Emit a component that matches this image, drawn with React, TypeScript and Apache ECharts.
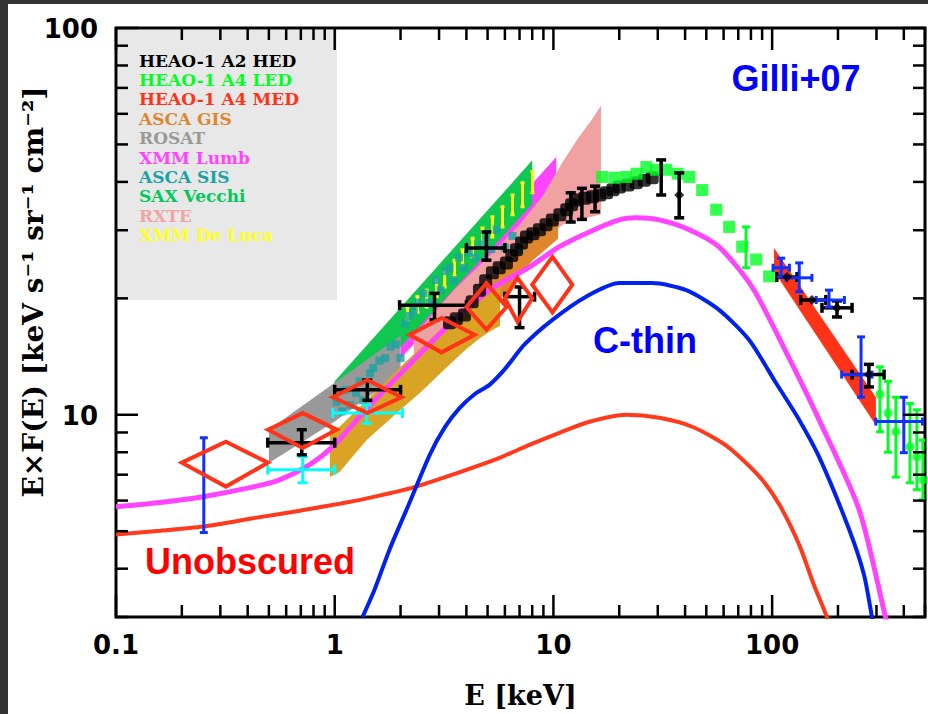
import React, { useEffect, useRef } from 'react';
import * as echarts from 'echarts';

// ---------- axes ----------
const X_MIN = 0.1;
const X_MAX = 500;
const Y_MIN = 3;
const Y_MAX = 100;
const xTickValues = [0.1, 1, 10, 100];
const xTickLabels = ['0.1', '1', '10', '100'];
const yTickValues = [10, 100];
const yTickLabels = ['10', '100'];

// ---------- model curves ----------
const unobsE = [0.1, 0.159, 0.25, 0.44, 0.692, 1.13, 1.6, 2.27, 3.35, 5.67, 7.77, 10.65, 14.6, 21.5, 30.5, 43.1, 61.7, 87.5, 108, 133, 155, 178, 192];
const unobsF = [4.9, 5.01, 5.14, 5.42, 5.65, 5.93, 6.18, 6.48, 6.96, 7.74, 8.36, 8.98, 9.59, 10.0, 9.82, 9.31, 8.32, 6.92, 5.85, 4.61, 3.64, 3.0, 2.63];

const cthinE = [1.34, 1.52, 1.78, 2.2, 2.72, 3.18, 3.72, 4.36, 5.1, 5.98, 7.38, 9.9, 14.1, 20.0, 28.3, 40.5, 57, 78.5, 104, 133, 164, 225, 263, 286, 298];
const cthinF = [3.0, 3.53, 4.48, 5.93, 7.88, 9.26, 10.4, 11.3, 11.95, 13.1, 15.2, 17.6, 20.2, 21.9, 21.9, 21.0, 18.7, 15.6, 12.1, 9.7, 7.78, 5.05, 3.86, 3.0, 2.63];

const totalE = [0.1, 0.159, 0.25, 0.409, 0.56, 0.769, 0.98, 1.3, 1.98, 3.35, 5.1, 7.77, 10.65, 14.6, 20.0, 23.9, 30.5, 41.8, 57, 81, 116, 164, 250, 330, 350];
const totalF = [5.78, 5.93, 6.14, 6.48, 6.79, 7.43, 8.27, 9.88, 12.7, 17.1, 21.0, 24.1, 27.2, 29.7, 31.9, 32.3, 31.9, 30.1, 27.2, 21.4, 14.5, 9.7, 5.68, 3.0, 2.63];

// ---------- bands (E, upper, lower) ----------
const saxE = [1.0, 8.0];
const saxTop = [12.2, 45.5];
const saxBot = [9.8, 35.0];

const rosatE = [0.5, 1.0, 2.0];
const rosatTop = [9.15, 12.1, 16.0];
const rosatBot = [7.5, 9.6, 12.8];

const lumbE = [2.0, 10.3];
const lumbTop = [16.5, 46.4];
const lumbBot = [14.0, 37.0];

const rxteE = [2.3, 3.5, 5, 7, 9, 11, 13, 15, 16.5];
const rxteTop = [16, 21, 25.5, 31, 37, 45, 52, 58, 63];
const rxteBot = [13.5, 17.5, 20.5, 24.5, 28, 31, 32, 32.5, 33];

const gisE = [4, 6, 8, 10.5];
const gisTop = [19, 24, 29, 33];
const gisBot = [16, 20.5, 25, 28.5];

const goldE = [0.95, 1.05, 1.4, 2.0, 2.5, 3, 3.5, 4, 4.5, 5, 5.7];
const goldTop = [9.2, 9.3, 10.9, 13.3, 15.0, 16.5, 17.8, 19.0, 20.0, 20.8, 21.5];
const goldBot = [6.9, 7.1, 8.6, 10.3, 11.5, 12.7, 13.8, 14.8, 15.6, 16.3, 17.0];

const medE = [102, 298];
const medTop = [27, 11.1];
const medBot = [23.5, 9.4];

// ---------- XMM De Luca bars ----------
const yelE = [2.15, 2.39, 2.63, 2.92, 3.18, 3.53, 3.84, 4.27, 4.74, 5.26, 5.85, 6.5, 7.22, 8.02];
const yelLo = [17.6, 18.4, 19.0, 20.2, 21.4, 22.8, 24.4, 25.6, 27.0, 28.8, 30.6, 32.9, 34.5, 37.5];
const yelHi = [19.0, 20.2, 21.0, 22.3, 23.4, 25.1, 26.7, 28.6, 30.4, 32.5, 34.5, 37.0, 39.8, 42.5];

// ---------- ASCA SIS points ----------
const sisE = [1.02, 1.08, 1.12, 1.18, 1.25, 1.3, 1.35, 1.45, 1.5, 1.6, 1.7, 1.8, 1.9, 2.0, 2.1, 2.2, 2.3, 2.4, 2.55, 2.7, 2.9, 3.05, 3.2, 3.35, 3.5, 3.7, 3.9, 4.1, 4.4, 4.7, 4.9, 5.2, 5.5, 6.0, 6.5, 7.0];
const sisF = [10.8, 10.2, 11.6, 10.6, 11.4, 12.2, 10.9, 12.8, 13.2, 13.8, 14.0, 15.0, 15.2, 14.0, 17.2, 18.0, 18.6, 19.5, 20.6, 19.5, 22.3, 21.0, 23.5, 24.0, 22.3, 25.5, 24.0, 26.2, 25.5, 27.5, 28.8, 26.8, 30.1, 27.0, 29.0, 26.7];

// ---------- HEAO-1 A2 HED ----------
const hedE = [3.35, 3.6, 3.92, 4.25, 4.59, 4.9, 5.26, 5.65, 6.1, 6.45, 6.78, 7.15, 7.53, 8.05, 8.63, 9.25, 9.89, 10.7, 11.5, 12.1, 12.7, 13.9, 15.1, 16.3, 17.5, 18.7, 20.0, 21.9, 23.9, 26.0, 28.3];
const hedF = [17.3, 17.7, 18.1, 19.6, 21.0, 22.2, 23.3, 24.0, 24.7, 25.8, 26.7, 27.8, 28.8, 29.4, 30.1, 31.0, 31.9, 32.9, 33.9, 34.9, 35.9, 36.3, 36.6, 37.0, 37.5, 38.2, 38.8, 39.3, 39.8, 40.4, 41.0];

// ---------- HEAO-1 A4 LED ----------
const ledE = [16.7, 19.0, 21.5, 24, 26.6, 29.5, 32.8, 37, 41.8, 47.9, 55.5, 63.6, 73, 84.5, 96.9];
const ledF = [41.2, 41.0, 41.2, 42, 43.7, 43, 43.0, 42, 41.2, 38.1, 33.9, 30.6, 27.2, 25.2, 22.8];

// error bars: [E, F, Elo, Ehi, Flo, Fhi]
const blackBars = [
  [0.707, 8.47, 0.494, 1.0, 7.88, 9.15],
  [1.41, 11.6, 1.0, 2.0, 10.9, 12.3],
  [2.86, 19.2, 1.98, 4.0, 17.6, 20.6],
  [4.94, 27.0, 4.0, 6.0, 25.1, 29.7],
  [7.0, 20.2, 6.0, 8.2, 16.8, 21.4],
  [12.0, 34.5, 12.0, 12.0, 31.5, 37.5],
  [13.5, 35.5, 13.5, 13.5, 32.0, 38.5],
  [15.5, 36.5, 15.5, 15.5, 33.5, 39.0],
  [31.1, 40.4, 31.1, 31.1, 37.0, 45.6],
  [37.6, 37.0, 37.6, 37.6, 32.3, 42.2],
  [117, 22.7, 105, 130, 22.7, 22.7],
  [152, 19.8, 135, 176, 19.8, 19.8],
  [198, 18.9, 169, 232, 17.9, 19.7],
  [277, 12.7, 232, 325, 11.8, 13.5],
];
const blackMarkers = [[117, 22.7], [152, 19.8], [198, 18.9], [277, 12.7], [37.6, 37.0]];

const blueBars = [
  [0.252, 6.6, 0.252, 0.252, 4.96, 8.72],
  [110, 24.0, 101, 120, 22.7, 25.4],
  [133, 22.6, 116, 152, 20.8, 24.7],
  [182, 19.8, 159, 214, 19.0, 21.0],
  [255, 12.7, 208, 286, 11.1, 15.9],
  [400, 9.6, 298, 487, 7.98, 11.1],
];

const cyanBars = [
  [0.714, 7.21, 0.494, 1.0, 6.67, 7.79],
  [1.4, 10.1, 0.98, 2.04, 9.5, 10.6],
];

const greenBars = [
  [76, 27.5, 76, 76, 24.0, 30.6],
  [311, 11.3, 311, 311, 9.04, 13.3],
  [339, 10.1, 339, 339, 8.0, 12.2],
  [368, 9.04, 368, 368, 6.9, 11.1],
  [427, 8.27, 427, 427, 6.67, 10.7],
  [459, 7.78, 459, 459, 6.4, 10.3],
  [489, 6.79, 489, 489, 6.03, 8.6],
];

// open diamonds: [E, F, Elo, Ehi, Flo, Fhi]
const diamonds = [
  [0.318, 7.52, 0.2, 0.495, 6.52, 8.52],
  [0.714, 9.15, 0.495, 1.02, 8.2, 10.1],
  [1.41, 11.1, 0.98, 2.02, 10.1, 12.3],
  [3.08, 16.1, 2.2, 4.36, 14.5, 17.8],
  [4.94, 19.0, 4.0, 6.1, 16.6, 21.9],
  [6.85, 20.0, 6.0, 8.0, 17.4, 22.6],
  [9.9, 21.7, 8.0, 12.2, 18.4, 25.6],
];

// ---------- legend ----------
const legendNames = ['HEAO-1 A2 HED', 'HEAO-1 A4 LED', 'HEAO-1 A4 MED', 'ASCA GIS', 'ROSAT', 'XMM Lumb', 'ASCA SIS', 'SAX Vecchi', 'RXTE', 'XMM De Luca'];
const legendColors = ['#000000', '#00ff22', '#ff3318', '#e0862e', '#999999', '#ff44ff', '#1aa3a3', '#00c95a', '#f2a3a3', '#ffff22'];

const C = {
  sax: '#10c850',
  rosat: '#999999',
  lumb: '#ff44ff',
  rxte: '#f0a2a2',
  gis: '#e0862e',
  gold: '#d9a323',
  med: '#ff3318',
  yellow: '#ffff22',
  sis: '#1aa3a3',
  red: '#ff3a1c',
  blue: '#0022ee',
  magenta: '#ff44ff',
  green: '#00ff22',
};

function band(name: string, E: number[], top: number[], bot: number[], color: string, z: number) {
  return {
    type: 'custom',
    name,
    z,
    clip: true,
    data: [[E[0], top[0]]],
    renderItem: (_p: any, api: any) => {
      const pts: number[][] = [];
      for (let i = 0; i < E.length; i++) pts.push(api.coord([E[i], top[i]]));
      for (let i = E.length - 1; i >= 0; i--) pts.push(api.coord([E[i], bot[i]]));
      return { type: 'polygon', shape: { points: pts }, style: { fill: color } };
    },
  };
}

function errBars(name: string, rows: number[][], color: string, lw: number, cap: number, z: number) {
  return {
    type: 'custom',
    name,
    z,
    clip: true,
    data: rows,
    renderItem: (_p: any, api: any) => {
      const E = api.value(0), F = api.value(1);
      const Elo = api.value(2), Ehi = api.value(3), Flo = api.value(4), Fhi = api.value(5);
      const st = { stroke: color, lineWidth: lw };
      const ch: any[] = [];
      if (Ehi > Elo) {
        const a = api.coord([Elo, F]), b = api.coord([Ehi, F]);
        ch.push({ type: 'line', shape: { x1: a[0], y1: a[1], x2: b[0], y2: b[1] }, style: st });
        ch.push({ type: 'line', shape: { x1: a[0], y1: a[1] - cap, x2: a[0], y2: a[1] + cap }, style: st });
        ch.push({ type: 'line', shape: { x1: b[0], y1: b[1] - cap, x2: b[0], y2: b[1] + cap }, style: st });
      }
      if (Fhi > Flo) {
        const a = api.coord([E, Flo]), b = api.coord([E, Fhi]);
        ch.push({ type: 'line', shape: { x1: a[0], y1: a[1], x2: b[0], y2: b[1] }, style: st });
        ch.push({ type: 'line', shape: { x1: a[0] - cap, y1: a[1], x2: a[0] + cap, y2: a[1] }, style: st });
        ch.push({ type: 'line', shape: { x1: b[0] - cap, y1: b[1], x2: b[0] + cap, y2: b[1] }, style: st });
      }
      return { type: 'group', children: ch };
    },
  };
}

function vBars(name: string, E: number[], lo: number[], hi: number[], color: string, z: number) {
  const rows = E.map((e, i) => [e, (lo[i] + hi[i]) / 2, e, e, lo[i], hi[i]]);
  return errBars(name, rows, color, 3, 2, z);
}

function line(name: string, E: number[], F: number[], color: string, width: number, z: number) {
  return {
    type: 'line',
    name,
    z,
    data: E.map((e, i) => [e, F[i]]),
    showSymbol: false,
    smooth: 0.25,
    clip: true,
    lineStyle: { color, width },
  };
}

function ticksSeries() {
  const xs: { v: number; major: boolean }[] = [];
  for (let d = -1; d <= 2; d++) {
    for (let m = 1; m <= 9; m++) {
      const v = m * Math.pow(10, d);
      if (v >= X_MIN - 1e-9 && v <= X_MAX + 1e-9) xs.push({ v, major: m === 1 });
    }
  }
  const ys: { v: number; major: boolean }[] = [];
  for (let d = 0; d <= 2; d++) {
    for (let m = 1; m <= 9; m++) {
      const v = m * Math.pow(10, d);
      if (v >= Y_MIN - 1e-9 && v <= Y_MAX + 1e-9) ys.push({ v, major: m === 1 });
    }
  }
  return {
    type: 'custom',
    name: 'ticks',
    z: 20,
    clip: false,
    silent: true,
    data: [[1, 10]],
    renderItem: (_p: any, api: any) => {
      const bl = api.coord([X_MIN, Y_MIN]);
      const tr = api.coord([X_MAX, Y_MAX]);
      const ch: any[] = [];
      const st = { stroke: '#000', lineWidth: 2.5 };
      xs.forEach((t) => {
        const x = api.coord([t.v, Y_MIN])[0];
        const L = t.major ? 22 : 12;
        ch.push({ type: 'line', shape: { x1: x, y1: bl[1], x2: x, y2: bl[1] - L }, style: st });
        ch.push({ type: 'line', shape: { x1: x, y1: tr[1], x2: x, y2: tr[1] + L }, style: st });
      });
      ys.forEach((t) => {
        const y = api.coord([X_MIN, t.v])[1];
        const L = t.major ? 22 : 12;
        ch.push({ type: 'line', shape: { x1: bl[0], y1: y, x2: bl[0] + L, y2: y }, style: st });
        ch.push({ type: 'line', shape: { x1: tr[0], y1: y, x2: tr[0] - L, y2: y }, style: st });
      });
      const font = 'bold 26px "DejaVu Sans", sans-serif';
      xTickValues.forEach((v, i) => {
        const x = api.coord([v, Y_MIN])[0];
        ch.push({ type: 'text', x, y: bl[1] + 28, style: { text: xTickLabels[i], font, fill: '#000', textAlign: 'center', textVerticalAlign: 'middle' } });
      });
      yTickValues.forEach((v, i) => {
        const y = api.coord([X_MIN, v])[1];
        ch.push({ type: 'text', x: bl[0] - 18, y: y + 1, style: { text: yTickLabels[i], font, fill: '#000', textAlign: 'right', textVerticalAlign: 'middle' } });
      });
      return { type: 'group', children: ch };
    },
  };
}

export default function App() {
  const ref = useRef<HTMLDivElement>(null);
  useEffect(() => {
    if (!ref.current) return;
    const chart = echarts.init(ref.current, null, { renderer: 'svg' });
    const legendGraphics = legendNames.map((n, i) => ({
      type: 'text',
      left: 139,
      top: 52 + i * 19.4,
      z: 5,
      style: { text: n, fill: legendColors[i], font: 'bold 17px "DejaVu Serif", serif' },
    }));
    const option: any = {
      animation: false,
      backgroundColor: '#ffffff',
      grid: { left: 116, top: 28, right: 3, bottom: 96, show: true, borderColor: '#000', borderWidth: 3, backgroundColor: 'transparent', z: 1 },
      xAxis: {
        type: 'log', logBase: 10, min: X_MIN, max: X_MAX,
        axisLine: { show: false }, axisTick: { show: false }, axisLabel: { show: false }, splitLine: { show: false },
        name: 'E [keV]', nameLocation: 'middle', nameGap: 65,
        nameTextStyle: { fontFamily: '"DejaVu Serif", serif', fontWeight: 'bold', fontSize: 27, color: '#000' },
      },
      yAxis: {
        type: 'log', logBase: 10, min: Y_MIN, max: Y_MAX,
        axisLine: { show: false }, axisTick: { show: false }, axisLabel: { show: false }, splitLine: { show: false },
      },
      graphic: [
        { type: 'rect', z: -10, shape: { x: 118, y: 30, width: 219, height: 270 }, style: { fill: '#e8e8e8' } },
        { type: 'rect', z: 100, shape: { x: 0, y: 0, width: 928, height: 4 }, style: { fill: '#333333' } },
        { type: 'rect', z: 100, shape: { x: 0, y: 0, width: 8, height: 714 }, style: { fill: '#333333' } },
        ...legendGraphics,
        {
          type: 'text', x: 33, y: 292, rotation: Math.PI / 2, z: 50,
          style: { text: 'E\u00d7F(E) [keV s\u207b\u00b9 sr\u207b\u00b9 cm\u207b\u00b2]', fill: '#000', font: 'bold 28px "DejaVu Serif", serif', textAlign: 'center', textVerticalAlign: 'middle' },
        },
        { type: 'text', x: 796, y: 78, z: 50, style: { text: 'Gilli+07', fill: '#0000ff', font: 'bold 36px "Liberation Sans", Arial, sans-serif', textAlign: 'center', textVerticalAlign: 'middle' } },
        { type: 'text', x: 645, y: 340, z: 50, style: { text: 'C-thin', fill: '#0000ff', font: 'bold 36px "Liberation Sans", Arial, sans-serif', textAlign: 'center', textVerticalAlign: 'middle' } },
        { type: 'text', x: 250, y: 561, z: 50, style: { text: 'Unobscured', fill: '#ff0000', font: 'bold 36px "Liberation Sans", Arial, sans-serif', textAlign: 'center', textVerticalAlign: 'middle' } },
      ],
      series: [
        band('XMM Lumb', lumbE, lumbTop, lumbBot, C.lumb, 2),
        band('SAX Vecchi', saxE, saxTop, saxBot, C.sax, 2),
        band('ROSAT', rosatE, rosatTop, rosatBot, C.rosat, 2),
        band('RXTE', rxteE, rxteTop, rxteBot, C.rxte, 3),
        band('ASCA GIS', gisE, gisTop, gisBot, C.gis, 3),
        band('Gold', goldE, goldTop, goldBot, C.gold, 3),
        band('HEAO-1 A4 MED', medE, medTop, medBot, C.med, 3),
        vBars('XMM De Luca', yelE, yelLo, yelHi, C.yellow, 4),
        {
          type: 'scatter', name: 'ASCA SIS', z: 4, symbol: 'rect', symbolSize: 8,
          itemStyle: { color: C.sis }, data: sisE.map((e, i) => [e, sisF[i]]),
        },
        line('Unobscured', unobsE, unobsF, C.red, 4, 5),
        line('C-thin', cthinE, cthinF, C.blue, 4, 5),
        line('Total', totalE, totalF, C.magenta, 5, 5),
        {
          type: 'scatter', name: 'HEAO-1 A2 HED', z: 6, symbol: 'roundRect', symbolSize: 13,
          itemStyle: { color: '#000' }, data: hedE.map((e, i) => [e, hedF[i]]),
        },
        {
          type: 'scatter', name: 'HEAO-1 A4 LED', z: 6, symbol: 'rect', symbolSize: 12,
          itemStyle: { color: C.green }, data: ledE.map((e, i) => [e, ledF[i]]),
        },
        errBars('LED bars', greenBars, C.green, 3, 4, 6),
        {
          type: 'scatter', name: 'LED circles', z: 6, symbol: 'circle', symbolSize: 9,
          itemStyle: { color: C.green }, data: greenBars.slice(1).map((r) => [r[0], r[1]]),
        },
        errBars('cyan', cyanBars, '#00ffff', 3, 5, 7),
        errBars('black', blackBars, '#000000', 3.5, 5, 8),
        {
          type: 'scatter', name: 'black markers', z: 8, symbol: 'diamond', symbolSize: 10,
          itemStyle: { color: '#000' }, data: blackMarkers,
        },
        errBars('blue', blueBars, '#1030ff', 3, 4, 8),
        {
          type: 'custom', name: 'diamonds', z: 9, clip: true, data: diamonds,
          renderItem: (_p: any, api: any) => {
            const E = api.value(0), F = api.value(1);
            const pts = [
              api.coord([api.value(2), F]),
              api.coord([E, api.value(5)]),
              api.coord([api.value(3), F]),
              api.coord([E, api.value(4)]),
            ];
            return { type: 'polygon', shape: { points: pts }, style: { fill: 'none', stroke: '#ff3318', lineWidth: 4, lineJoin: 'miter' } };
          },
        },
        ticksSeries(),
      ],
    };
    chart.setOption(option);
    return () => chart.dispose();
  }, []);
  return <div ref={ref} style={{ position: 'fixed', left: 0, top: 0, width: 928, height: 714, background: '#fff' }} />;
}
